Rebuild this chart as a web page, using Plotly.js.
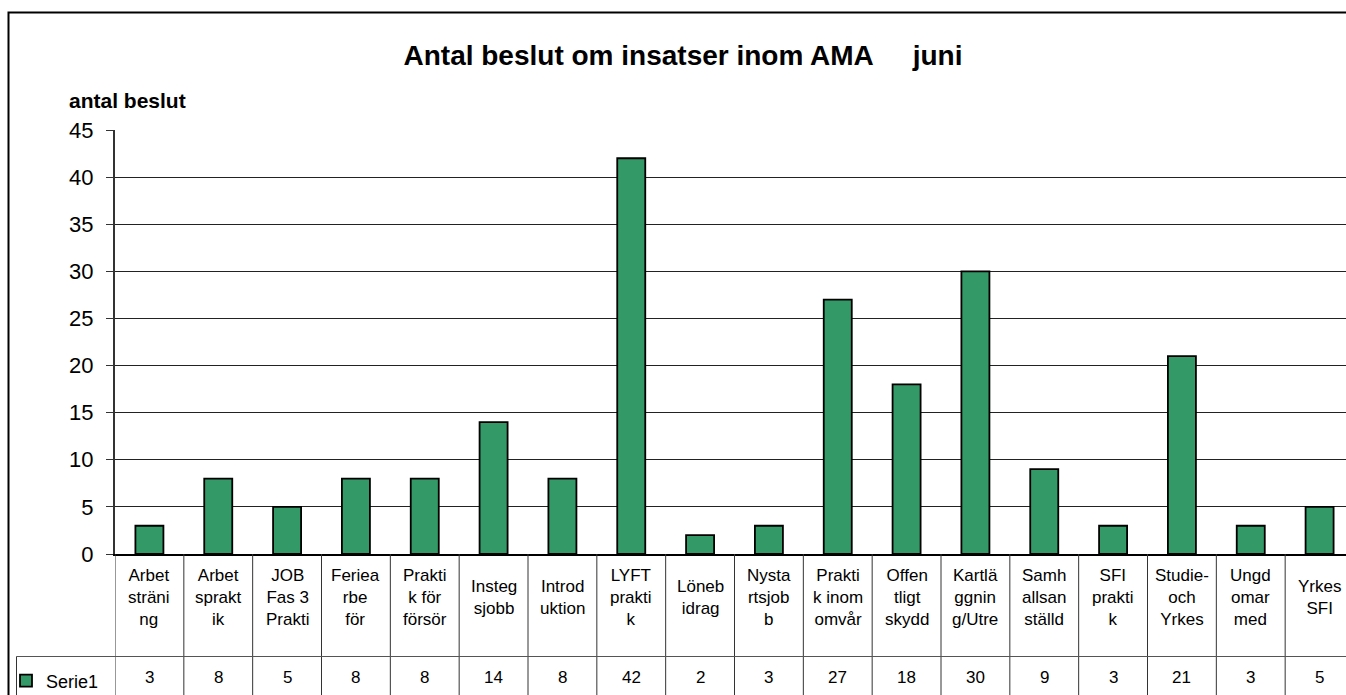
<!DOCTYPE html>
<html>
<head>
<meta charset="utf-8">
<script src="https://cdn.plot.ly/plotly-3.0.1.min.js"></script>
<style>
html,body{margin:0;padding:0;overflow:hidden;background:#fff;}
#chart{width:1380px;height:720px;}
</style>
</head>
<body>
<div id="chart"></div>
<script>
// ---- data ----
const categoryLabels = [
  "Arbet<br>sträni<br>ng",
  "Arbet<br>sprakt<br>ik",
  "JOB<br>Fas 3<br>Prakti",
  "Feriea<br>rbe<br>för",
  "Prakti<br>k för<br>försör",
  "Insteg<br>sjobb",
  "Introd<br>uktion",
  "LYFT<br>prakti<br>k",
  "Löneb<br>idrag",
  "Nysta<br>rtsjob<br>b",
  "Prakti<br>k inom<br>omvår",
  "Offen<br>tligt<br>skydd",
  "Kartlä<br>ggnin<br>g/Utre",
  "Samh<br>allsan<br>ställd",
  "SFI<br>prakti<br>k",
  "Studie-<br>och<br>Yrkes",
  "Ungd<br>omar<br>med",
  "Yrkes<br>SFI"
];
const seriesName = "Serie1";
const seriesValues = [3, 8, 5, 8, 8, 14, 8, 42, 2, 3, 27, 18, 30, 9, 3, 21, 3, 5];
const yTickValues = [0, 5, 10, 15, 20, 25, 30, 35, 40, 45];
const chartTitle = "Antal beslut om insatser inom AMA\u00a0\u00a0\u00a0\u00a0\u00a0juni";
const yAxisLabel = "antal beslut";

// ---- geometry (pixels) ----
const W = 1380, H = 720;
const L = 115, T = 130, PW = 1239, PH = 424;
const R = W - L - PW, B = H - T - PH;
const px2x = p => (p - L) / PW;          // pixel x -> paper x
const py2y = p => (T + PH - p) / PH;     // pixel y -> paper y

const FONT = '"Liberation Sans", Arial, sans-serif';

const n = categoryLabels.length;
const shapes = [];
// vertical table lines at category boundaries
for (let i = 0; i <= n; i++) {
  shapes.push({type:'line', xref:'x', yref:'paper', x0:i-0.5, x1:i-0.5, y0:0, y1:-0.6,
    line:{color:'#333', width:1}});
}
// horizontal line separating labels and values row
shapes.push({type:'line', xref:'paper', yref:'paper', x0:px2x(16.5), x1:1.05, y0:py2y(656.5), y1:py2y(656.5),
  line:{color:'#555', width:1}});
// left border of the values row
shapes.push({type:'line', xref:'paper', yref:'paper', x0:px2x(16.5), x1:px2x(16.5), y0:py2y(656.5), y1:-0.6,
  line:{color:'#333', width:1}});
// outer chart frame
shapes.push({type:'rect', xref:'paper', yref:'paper', x0:px2x(8.5), x1:px2x(1368), y0:py2y(12.5), y1:-0.8,
  line:{color:'#000', width:2}, fillcolor:'rgba(0,0,0,0)'});

const annotations = [];
categoryLabels.forEach((lab, i) => {
  annotations.push({xref:'x', yref:'paper', x:categoryLabels[i], y:py2y(597), text:lab,
    showarrow:false, xanchor:'center', yanchor:'middle', align:'center',
    font:{family:FONT, size:17, color:'#000'}});
  annotations.push({xref:'x', yref:'paper', x:categoryLabels[i], y:py2y(677), text:String(seriesValues[i]),
    showarrow:false, xanchor:'center', yanchor:'middle',
    font:{family:FONT, size:17, color:'#000'}});
});
annotations.push({xref:'paper', yref:'paper', x:px2x(67), y:py2y(100), text:'<b>'+yAxisLabel+'</b>',
  showarrow:false, xanchor:'left', yanchor:'middle', font:{family:FONT, size:21, color:'#000'}});

const trace = {
  type:'bar', name:seriesName, x:categoryLabels, y:seriesValues,
  marker:{color:'#339966', line:{color:'#000', width:1.8}},
  hoverinfo:'none', showlegend:true
};

const layout = {
  width:W, height:H,
  margin:{l:L, r:R, t:T, b:B, pad:0},
  paper_bgcolor:'#fff', plot_bgcolor:'#fff',
  title:{text:'<b>'+chartTitle+'</b>', xref:'container', yref:'container', x:683/W, y:1-55/H,
    xanchor:'center', yanchor:'middle', font:{family:FONT, size:28, color:'#000'}},
  bargap:0.593,
  xaxis:{type:'category', range:[-0.5, n-0.5], showticklabels:false, ticks:'', showgrid:false,
    showline:true, linecolor:'#000', linewidth:2, zeroline:false, fixedrange:true},
  yaxis:{range:[0,45], tickvals:yTickValues, ticks:'outside', ticklen:7, tickcolor:'#333', tickwidth:1,
    showgrid:true, gridcolor:'#222', gridwidth:1, showline:true, linecolor:'#333', linewidth:2,
    zeroline:false, tickfont:{family:FONT, size:22, color:'#000'}, ticklabelstandoff:8, fixedrange:true},
  showlegend:true,
  legend:{xref:'container', yref:'container', x:6/W, y:1-681/H, xanchor:'left', yanchor:'middle',
    bgcolor:'rgba(0,0,0,0)', borderwidth:0, itemwidth:30, font:{family:FONT, size:18, color:'#000'}},
  shapes:shapes, annotations:annotations
};

Plotly.newPlot('chart', [trace], layout, {staticPlot:true, displayModeBar:false});
</script>
</body>
</html>
